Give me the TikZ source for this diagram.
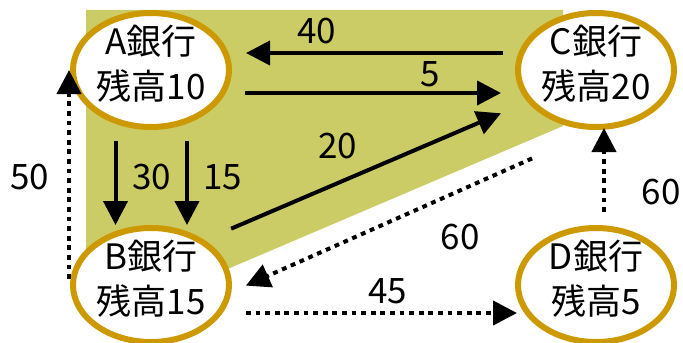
\documentclass[tikz,border=0pt]{standalone}
\usepackage{fontspec}
\setmainfont{Noto Sans CJK JP}
\usetikzlibrary{positioning,arrows.meta,shapes.geometric}
\definecolor{bankgold}{RGB}{204,153,0}
\definecolor{areagreen}{RGB}{204,204,102}

\begin{document}
\begin{tikzpicture}[
  x=0.5pt, y=-0.5pt,
  >={Triangle[length=12pt,width=12pt]},
  bank/.style={ellipse,draw=bankgold,line width=3pt,fill=white,
               minimum width=78pt,minimum height=57pt,inner sep=0pt,
               inner ysep=-3pt,align=center,
               font=\fontsize{17.5}{22.5}\selectfont,
               execute at end node={\rule[-7.5pt]{0pt}{0pt}}},
  flow/.style={->,line width=2pt},
  dflow/.style={->,line width=2pt,dash pattern=on 2.4pt off 2.4pt},
  amt/.style={inner sep=0pt,font=\fontsize{17.5}{21}\selectfont}
]
\useasboundingbox (0,0) rectangle (683,342);
\fill[areagreen] (86,10) -- (563,10) -- (563,126) -- (230,268) -- (86,268) -- cycle;

\node[bank] (A) at (151,70) {A銀行\\残高10};
\node[bank,on grid,right=222.5pt of A] (C) {C銀行\\残高20};
\node[bank,on grid,below=107.5pt of A] (B) {B銀行\\残高15};
\node[bank,on grid,below=107.5pt of C] (D) {D銀行\\残高5};

\draw[flow,shorten <=6pt,shorten >=7pt] ([yshift=8.5pt]C.west)
  -- node[amt,pos=.7,above=3.6pt] {40} ([yshift=8.5pt]A.east);
\draw[flow,shorten <=6.5pt,shorten >=7pt] ([yshift=-11.5pt]A.east)
  -- node[amt,pos=.7,above=2.1pt] {5} ([yshift=-11.5pt]C.west);
\draw[flow,shorten <=5.5pt] ([xshift=-17.75pt]A.south)
  -- node[amt,right=7.5pt] {30} ([xshift=-17.75pt]B.north);
\draw[flow,shorten <=5.5pt] ([xshift=18pt]A.south)
  -- node[amt,right=7pt] {15} ([xshift=18pt]B.north);
\draw[flow,shorten <=14.4pt,shorten >=14.4pt] (B.40)
  -- node[amt,pos=.413,above=10.9pt] {20} (C.205);

\draw[dflow,shorten <=3pt] ([xshift=-0.5pt]B.west)
  -- node[amt,left=9pt] {50} ([xshift=-0.5pt]A.west);
\draw[dflow,shorten <=35pt,shorten >=7.9pt] (C.south)
  -- node[amt,pos=.373,below=16pt] {60} (B.-5);
\draw[dflow,shorten <=6.5pt,shorten >=-1pt] ([xshift=4pt]D.north)
  -- node[amt,pos=.35,right=17.8pt] {60} ([xshift=4pt]C.south);
\draw[dflow,shorten <=7pt,shorten >=-1pt] ([yshift=-14pt]B.east)
  -- node[amt,pos=.55,above=3.35pt] {45} ([yshift=-14pt]D.west);
\end{tikzpicture}
\end{document}
